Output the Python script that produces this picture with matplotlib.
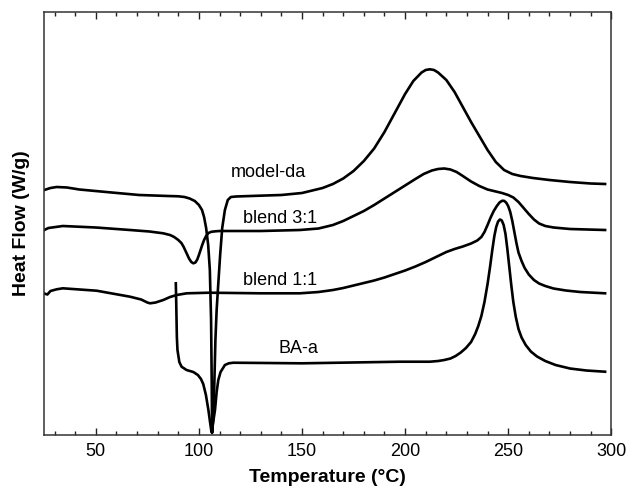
import matplotlib
matplotlib.use("Agg")
import matplotlib.pyplot as plt
from matplotlib.ticker import MultipleLocator, NullLocator

plt.rcParams['font.family'] = ['Liberation Sans', 'DejaVu Sans']

# DSC traces: temperature (°C) and heat flow (W/g, curves offset vertically)
model_da_T = [25, 28, 31, 36, 42, 55, 71, 85, 90, 93, 95.5, 98, 100, 101.5, 102.5, 103.5,
              104.5, 105.3, 105.9, 106.2, 106.4, 106.9, 107.4, 108, 108.6, 109.2, 110.3,
              111.3, 112.6, 114, 115.5, 118, 125, 140, 150, 160, 165, 170, 175, 180, 185,
              190, 195, 200, 204, 208, 210, 212, 214, 216, 220, 224, 228, 232, 236, 240,
              244, 248, 252, 256, 262, 270, 280, 290, 297]
model_da_Q = [2.45, 2.47, 2.48, 2.475, 2.455, 2.43, 2.40, 2.39, 2.387, 2.38, 2.365, 2.34,
              2.30, 2.25, 2.18, 2.07, 1.90, 1.65, 1.15, 0.55, 0.02, 0.15, 0.45, 0.95,
              1.25, 1.45, 1.80, 2.07, 2.25, 2.35, 2.38, 2.385, 2.39, 2.40, 2.42, 2.47,
              2.51, 2.565, 2.64, 2.74, 2.865, 3.03, 3.22, 3.41, 3.54, 3.625, 3.65, 3.657,
              3.65, 3.625, 3.55, 3.43, 3.28, 3.13, 2.99, 2.85, 2.73, 2.65, 2.61, 2.59,
              2.57, 2.55, 2.53, 2.515, 2.51]

blend31_T = [25, 27, 34, 50, 66.6, 76, 82.7, 86, 88, 90, 91.5, 92.5, 93.3, 94.2, 95.2,
             96.3, 97.3, 98.3, 99.2, 100, 100.8, 101.6, 102.5, 103.5, 104.6, 106, 108,
             110, 130, 149, 158, 165, 170, 175, 180, 185, 190, 195, 200, 205, 209, 213,
             216, 219, 222, 225, 228, 232, 236, 240, 244, 247, 250, 252.5, 255, 257.5,
             260, 262.5, 265, 268, 272, 280, 297]
blend31_Q = [2.05, 2.07, 2.09, 2.075, 2.05, 2.035, 2.017, 2.00, 1.98, 1.95, 1.92, 1.885,
             1.85, 1.81, 1.765, 1.73, 1.717, 1.725, 1.755, 1.80, 1.85, 1.90, 1.95, 1.99,
             2.02, 2.032, 2.037, 2.04, 2.04, 2.05, 2.065, 2.10, 2.14, 2.19, 2.24, 2.30,
             2.365, 2.43, 2.495, 2.56, 2.61, 2.645, 2.66, 2.665, 2.655, 2.63, 2.59,
             2.535, 2.49, 2.455, 2.435, 2.42, 2.40, 2.375, 2.33, 2.27, 2.21, 2.155,
             2.115, 2.09, 2.075, 2.06, 2.05]

blend11_T = [25, 26.5, 28, 31, 34, 50.4, 66.6, 72, 75, 76.3, 79, 82.7, 86, 89.2, 94.1,
             105, 130, 149, 158, 165, 170, 175, 180, 185, 190, 195, 200, 205, 210, 215,
             220, 224, 228, 232, 235, 237, 238.5, 240, 241.5, 243, 244.5, 245.8, 247,
             248, 249, 250, 251, 252, 253, 254, 255, 256.5, 258, 260, 262.5, 265, 268,
             272, 278, 285, 297]
blend11_Q = [1.415, 1.405, 1.44, 1.457, 1.467, 1.443, 1.383, 1.355, 1.325, 1.317, 1.325,
             1.35, 1.38, 1.40, 1.417, 1.423, 1.417, 1.417, 1.43, 1.45, 1.47, 1.495, 1.52,
             1.545, 1.575, 1.61, 1.645, 1.685, 1.73, 1.78, 1.83, 1.86, 1.885, 1.915,
             1.945, 1.98, 2.03, 2.10, 2.175, 2.24, 2.29, 2.325, 2.342, 2.342, 2.325,
             2.29, 2.23, 2.14, 2.03, 1.92, 1.825, 1.74, 1.67, 1.605, 1.55, 1.515, 1.49,
             1.465, 1.445, 1.43, 1.417]

ba_a_T = [88.8, 89.0, 89.3, 89.6, 90.5, 91.6, 94, 97.3, 99.5, 101, 102.1, 103.4, 104.6,
          105.4, 106.1, 106.7, 107.8, 108.6, 109.4, 110.5, 112.6, 114.5, 116.7, 150,
          197.5, 212, 216, 219, 222, 224.5, 227, 229.5, 232, 234, 235.5, 237, 238.5, 240,
          241.2, 242.3, 243.3, 244.2, 245.1, 246, 246.9, 247.8, 248.7, 249.6, 250.5,
          251.5, 252.5, 253.7, 255, 256.5, 258.5, 261, 264, 268, 273, 280, 288, 297]
ba_a_Q = [1.517, 1.32, 0.983, 0.85, 0.73, 0.683, 0.65, 0.63, 0.60, 0.56, 0.51, 0.40,
          0.25, 0.13, 0.03, 0.10, 0.25, 0.43, 0.55, 0.63, 0.70, 0.717, 0.723, 0.717,
          0.733, 0.733, 0.74, 0.75, 0.765, 0.79, 0.825, 0.87, 0.93, 1.01, 1.09, 1.19,
          1.33, 1.51, 1.68, 1.85, 1.99, 2.08, 2.135, 2.155, 2.145, 2.10, 2.01, 1.86,
          1.69, 1.50, 1.33, 1.18, 1.06, 0.975, 0.90, 0.835, 0.785, 0.74, 0.70, 0.665,
          0.645, 0.633]

labels = ["model-da", "blend 3:1", "blend 1:1", "BA-a"]
label_T = [133.5, 139.6, 139.6, 148.1]
label_Q = [2.62, 2.17, 1.55, 0.87]

fig = plt.figure(figsize=(6.29, 4.93), dpi=100)
ax = fig.add_axes([0.0704, 0.1176, 0.9014, 0.8581])

for T, Q in [(model_da_T, model_da_Q), (blend31_T, blend31_Q),
             (blend11_T, blend11_Q), (ba_a_T, ba_a_Q)]:
    ax.plot(T, Q, color='black', lw=1.9, solid_joinstyle='round')

for name, tx, ty in zip(labels, label_T, label_Q):
    ax.text(tx, ty, name, fontsize=13, ha='center', va='center')

ax.set_xlim(25, 300)
ax.set_ylim(0, 4.23)
ax.xaxis.set_major_locator(MultipleLocator(50))
ax.xaxis.set_minor_locator(MultipleLocator(10))
ax.yaxis.set_major_locator(NullLocator())
ax.tick_params(axis='x', which='both', direction='in', top=True, bottom=True,
               labelsize=13, pad=6, width=1.0, color='#222222')
ax.tick_params(axis='x', which='major', length=5)
ax.tick_params(axis='x', which='minor', length=3)
for s in ax.spines.values():
    s.set_linewidth(1.1)
    s.set_color('#333333')

ax.set_xlabel('Temperature (°C)', fontsize=14, fontweight='bold', labelpad=6)
ax.set_ylabel('Heat Flow (W/g)', fontsize=14, fontweight='bold', labelpad=10)

fig.savefig('out.png', dpi=100)
